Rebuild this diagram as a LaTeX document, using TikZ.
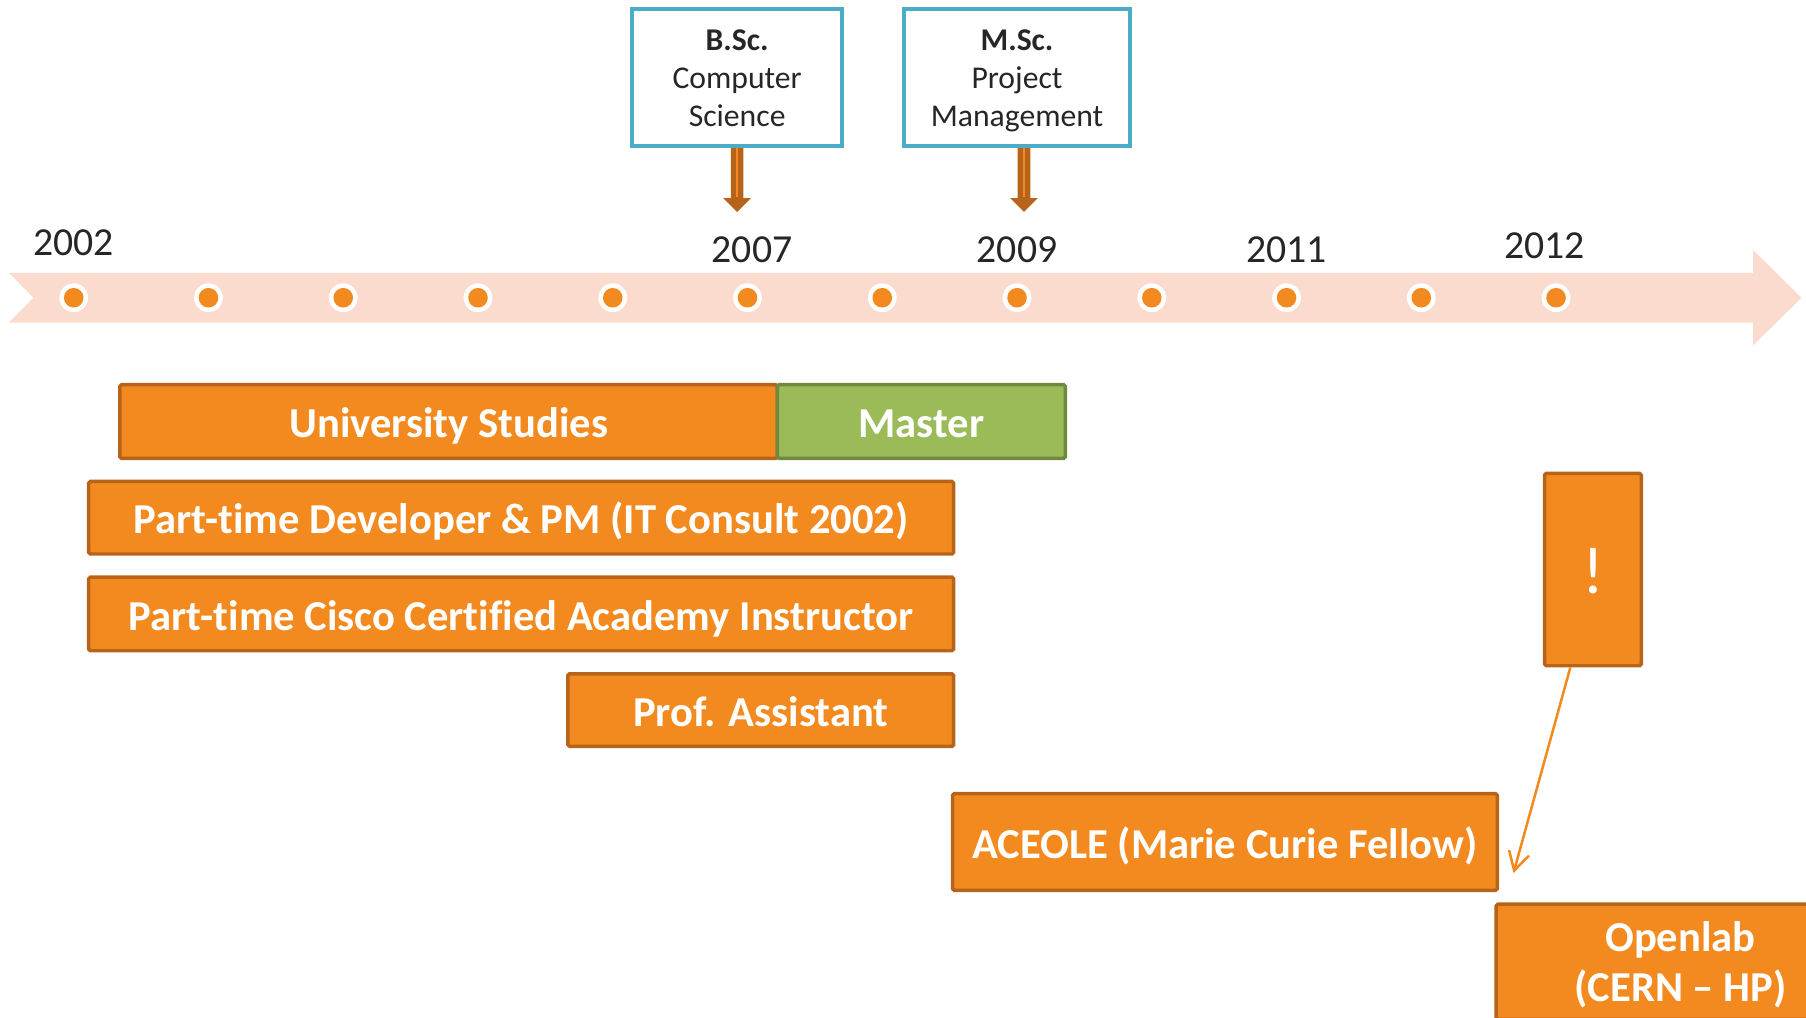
\documentclass[tikz,border=0pt]{standalone}
\usepackage{fontspec}
\setmainfont{Carlito}[Ligatures=NoCommon]
\usetikzlibrary{arrows.meta,calc}
\definecolor{band}{HTML}{FADBCD}
\definecolor{orfill}{HTML}{F28A1F}
\definecolor{orline}{HTML}{B7641A}
\definecolor{grfill}{HTML}{9BBB59}
\definecolor{grline}{HTML}{71893F}
\definecolor{blueline}{HTML}{4BACC6}
\definecolor{txt}{HTML}{262626}
\begin{document}
\begin{tikzpicture}[x=1pt,y=-1pt,
  bar/.style={draw=orline, fill=orfill, line width=3pt, text=white, inner sep=0pt,
    rounded corners=1.5pt, font=\fontsize{37}{43}\selectfont\bfseries, align=center,
    text height=28pt, text depth=0pt},
  greenbar/.style={bar, draw=grline, fill=grfill},
  degree/.style={draw=blueline, fill=white, line width=3.5pt, text=txt, inner sep=0pt,
    font=\fontsize{27.5}{33}\selectfont, align=center, minimum height=119pt, text depth=0pt},
  year/.style={text=txt, font=\fontsize{34.5}{40}\selectfont, inner sep=0pt},
  fatarrow/.pic={
    \fill[orline] (-5.5,0) -- (-5.5,45) -- (-12,45) -- (0,57) -- (12,45) -- (5.5,45) -- (5.5,0) -- cycle;
    \draw[orfill, line width=2.2pt] (0,0) -- (0,44);
  }]
\useasboundingbox (0,0) rectangle (1568,883);
\clip (0,0) rectangle (1568,883);

% timeline band
\fill[band] (8,237) -- (1522,237) -- (1522,217) -- (1564,258.5) -- (1522,300)
  -- (1522,280) -- (8,280) -- (29,258.5) -- cycle;
\foreach \i in {0,...,11}{
  \fill[white] (64+117*\i,258.5) circle[radius=12.5pt];
  \fill[orfill] (64+117*\i,258.5) circle[radius=8.5pt];
}

% years
\node[year] (y2002) at (64,211) {2002};
\node[year] (y2007) at (653,217) {2007};
\node[year] (y2009) at (883,217) {2009};
\node[year] (y2011) at (1117,217) {2011};
\node[year] (y2012) at (1341,213) {2012};

% degree boxes and arrows
\pic at (640,127) {fatarrow};
\pic at (889,127) {fatarrow};
\node[degree, minimum width=182pt] (bsc) at (640,67.5) {\textbf{B.Sc.}\\Computer\\Science};
\node[degree, minimum width=196pt] (msc) at (883,67.5) {\textbf{M.Sc.}\\Project\\Management};

% bars
\node[bar, minimum width=571pt, minimum height=64pt] (uni) at (389.5,366) {University Studies};
\node[greenbar, minimum width=250pt, minimum height=64pt] (master) at (800,366) {Master};
\node[bar, minimum width=751pt, minimum height=63pt] (dev) at (452.5,449.5) {Part-time Developer \& PM (IT Consult 2002)};
\node[bar, minimum width=751pt, minimum height=64pt] (cisco) at (452.5,533) {Part-time Cisco Certified Academy Instructor};
\node[bar, minimum width=335pt, minimum height=63pt] (prof) at (660.5,616.5) {Prof. Assistant};
\node[bar, minimum width=84pt, minimum height=167pt, font=\fontsize{58}{60}\selectfont, text height=41pt] (bang) at (1383,494.5) {!};
\node[bar, minimum width=473pt, minimum height=84pt] (aceole) at (1063.5,731) {ACEOLE (Marie Curie Fellow)};
\node[bar, minimum width=320pt, minimum height=100pt, text height=, text depth=0pt] (openlab) at (1459,835) {Openlab\\(CERN -- HP)};

% thin arrow
\coordinate (tip) at (1314,758);
\draw[orfill, line width=2.2pt, -{Straight Barb[length=16pt,width=18pt]}] (bang.257) -- (tip);
\end{tikzpicture}
\end{document}
